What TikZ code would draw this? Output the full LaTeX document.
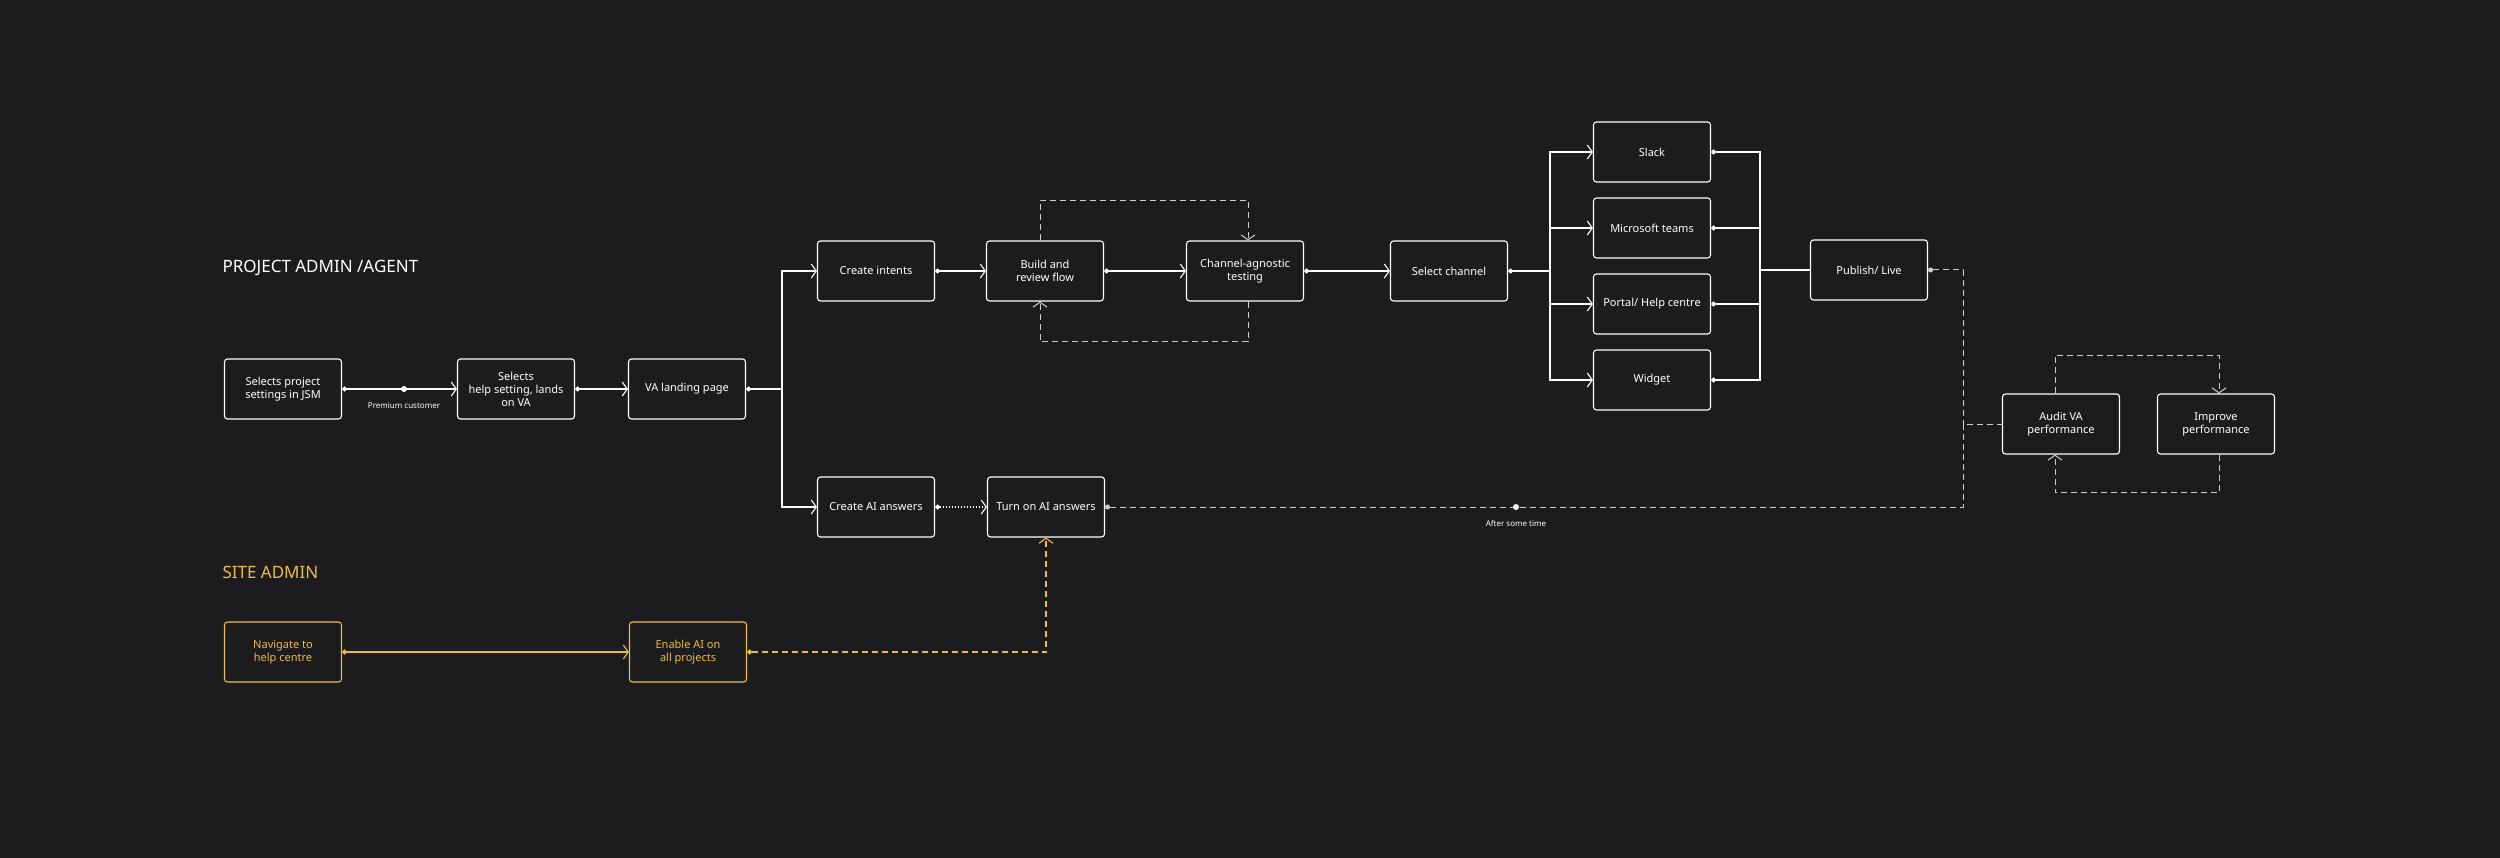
\documentclass[tikz,border=0pt]{standalone}
\usepackage{fontspec}
\setmainfont{Noto Sans}
\usetikzlibrary{arrows.meta,calc}
\definecolor{bg}{HTML}{1C1C1E}
\definecolor{gold}{HTML}{EDBE3C}
\tikzset{
  stage/.style={draw=white, line width=1.1pt, rounded corners=3pt, minimum width=117pt, minimum height=60pt, align=center, text=white, font=\fontsize{11}{13}\selectfont},
  site/.style={stage, draw=gold, text=gold},
  flowline/.style={white, line width=1.1pt, {Circle[length=5pt]}-{Straight Barb[length=5pt,width=14pt]}},
  tapline/.style={white, line width=1.1pt, {Circle[length=5pt]}-},
  branchline/.style={white, line width=1.1pt, -{Straight Barb[length=5pt,width=14pt]}},
  backline/.style={white!80!black, line width=1pt, dash pattern=on 6pt off 4pt, -{Straight Barb[length=5pt,width=14pt]}},
  lane/.style={font=\bfseries\fontsize{17}{20}\selectfont, anchor=west},
  note/.style={text=white, font=\fontsize{8}{10}\selectfont}
}
\begin{document}
\begin{tikzpicture}[x=1pt,y=-1pt]
  \fill[bg] (0,0) rectangle (2500,858);
  % Lane titles
  \node[lane, text=white] (laneproj) at (219,268) {PROJECT ADMIN /AGENT};
  \node[lane, text=gold] (lanesite) at (219,572) {SITE ADMIN};
  % Project admin steps
  \node[stage] (jsm) at (283,389) {Selects project\\settings in JSM};
  \node[stage] (help) at (516,389) {Selects\\help setting, lands\\on VA};
  \node[stage] (landing) at (687,389) {VA landing page};
  \node[stage] (intents) at (876,271) {Create intents};
  \node[stage] (build) at (1045,271) {Build and\\review flow};
  \node[stage] (testing) at (1245,271) {Channel-agnostic\\testing};
  \node[stage] (channel) at (1449,271) {Select channel};
  \node[stage] (slack) at (1652,152) {Slack};
  \node[stage] (teams) at (1652,228) {Microsoft teams};
  \node[stage] (portal) at (1652,304) {Portal/ Help centre};
  \node[stage] (widget) at (1652,380) {Widget};
  \node[stage] (publish) at (1869,270) {Publish/ Live};
  \node[stage] (audit) at (2061,424) {Audit VA\\performance};
  \node[stage] (improve) at (2216,424) {Improve\\performance};
  \node[stage] (aians) at (876,507) {Create AI answers};
  \node[stage] (turnon) at (1046,507) {Turn on AI answers};
  % Site admin steps
  \node[site] (navigate) at (283,652) {Navigate to\\help centre};
  \node[site] (enable) at (688,652) {Enable AI on\\all projects};
  % Main flow
  \coordinate (premium) at (404,389);
  \fill[white] (premium) circle (3pt);
  \node[note, below=10pt] (premlabel) at (premium) {Premium customer};
  \draw[flowline] (jsm.east) -- (help.west);
  \draw[flowline] (help.east) -- (landing.west);
  \coordinate (split) at (782,389);
  \draw[tapline] (landing.east) -- (split);
  \draw[branchline] (split) |- (intents.west);
  \draw[branchline] (split) |- (aians.west);
  \draw[flowline] (intents.east) -- (build.west);
  \draw[flowline] (build.east) -- (testing.west);
  \draw[flowline] (testing.east) -- (channel.west);
  \draw[flowline, dash pattern=on 1.5pt off 1.5pt] (aians.east) -- (turnon.west);
  % Review loop
  \draw[backline] ([xshift=-5pt]build.north) -- ++(0,-40) -| ([xshift=3pt]testing.north);
  \draw[backline] ([xshift=3pt]testing.south) -- ++(0,40) -| ([xshift=-5pt]build.south);
  % Channels
  \coordinate (chsplit) at (1550,271);
  \coordinate (chmerge) at (1760,270);
  \draw[tapline] (channel.east) -- (chsplit);
  \foreach \ch in {slack,teams,portal,widget}
  {
    \draw[branchline] (chsplit) |- (\ch.west);
    \draw[tapline] (\ch.east) -| (chmerge);
  }
  \draw[white, line width=1.1pt] (chmerge) -- (publish.west);
  % After some time
  \coordinate (drop) at (1963,424);
  \draw[backline, {Circle[length=5pt]}-] (publish.east) -| (drop);
  \draw[backline, {Circle[length=5pt]}-] (turnon.east) -| (drop) -- (audit.west);
  \coordinate (later) at (1516,507);
  \fill[white] (later) circle (3pt);
  \node[note, below=10pt] (laterlabel) at (later) {After some time};
  % Audit loop
  \draw[backline] ([xshift=-6pt]audit.north) -- ++(0,-38) -| ([xshift=3pt]improve.north);
  \draw[backline] ([xshift=3pt]improve.south) -- ++(0,38) -| ([xshift=-6pt]audit.south);
  % Site admin flow
  \draw[flowline, gold] (navigate.east) -- (enable.west);
  \draw[flowline, gold, dash pattern=on 6pt off 4pt] (enable.east) -| (turnon.south);
\end{tikzpicture}
\end{document}
